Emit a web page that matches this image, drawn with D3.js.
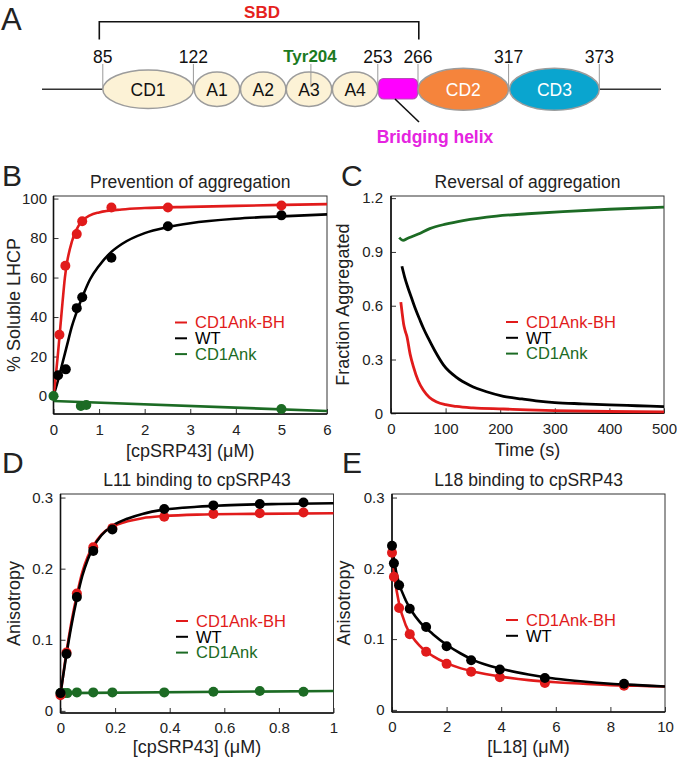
<!DOCTYPE html>
<html><head><meta charset="utf-8">
<script src="https://cdn.jsdelivr.net/npm/d3@7"></script>
<style>body{margin:0;background:#fff}svg{display:block;font-family:"Liberation Sans",Arial,sans-serif}</style>
</head><body><svg id="c" width="677" height="760"></svg>
<script>
// ---------- DATA ----------
const seriesNames = ["CD1Ank-BH", "WT", "CD1Ank"];
const colors = {"CD1Ank-BH": "#e11b1b", "WT": "#000000", "CD1Ank": "#1c6b24"};

// Panel A: domain map
const domainBoundaries = [85, 122, 253, 266, 317, 373];
const ankDomains = ["A1", "A2", "A3", "A4"];

// Panel B: prevention of aggregation (% soluble LHCP vs [cpSRP43] uM)
const bTicksX = [0, 1, 2, 3, 4, 5, 6];
const bTicksY = [0, 20, 40, 60, 80, 100];
const bRedPts = [[0.13, 31], [0.26, 66], [0.51, 82], [0.63, 88.5], [1.27, 95.5], [2.51, 95.5], [5.0, 96.5]];
const bBlackPts = [[0.1, 10.5], [0.27, 13.5], [0.51, 44.5], [0.63, 50], [1.27, 70], [2.51, 86], [5.0, 91.5]];
const bGreenPts = [[0, 0], [0.6, -5], [0.72, -4.5], [5.0, -6.6]];
const bRedFit = [[0,0],[0.05,10],[0.1,22],[0.15,35],[0.2,48],[0.25,60],[0.3,68],[0.4,78],[0.5,84],[0.6,88],[0.8,91.5],[1,93],[1.5,94.5],[2,95.2],[3,95.8],[4,96.3],[5,96.8],[6,97.2]];
const bBlackFit = [[0,0],[0.1,8],[0.2,17],[0.3,26],[0.4,35],[0.5,42],[0.63,50],[0.8,59],[1,66],[1.27,73],[1.5,77],[2,82.5],[2.5,85.5],[3,87.5],[4,89.8],[5,91],[6,92]];
const bGreenFit = [[0, -2.5], [6, -7.6]];

// Panel C: reversal of aggregation (fraction aggregated vs time s)
const cTicksX = [0, 100, 200, 300, 400, 500];
const cTicksY = [0, 0.3, 0.6, 0.9, 1.2];
const cRed = [[18,0.62],[20,0.57],[23,0.5],[26,0.46],[29,0.43],[35,0.33],[41,0.26],[50,0.18],[59,0.13],[70,0.09],[84,0.063],[100,0.048],[120,0.038],[150,0.03],[206,0.024],[250,0.019],[300,0.015],[400,0.01],[500,0.008]];
const cBlack = [[20,0.82],[25,0.76],[30,0.71],[38,0.64],[45,0.58],[53,0.52],[60,0.47],[68,0.42],[80,0.35],[96,0.27],[120,0.2],[145,0.155],[175,0.12],[206,0.095],[240,0.08],[270,0.068],[300,0.06],[350,0.053],[400,0.047],[450,0.042],[500,0.037]];
const cGreen = [[15,0.98],[22,0.965],[30,0.975],[50,1.0],[71,1.03],[100,1.055],[132,1.075],[193,1.10],[250,1.113],[315,1.125],[400,1.138],[500,1.15]];

// Panel D: L11 binding to cpSRP43 (anisotropy vs [cpSRP43] uM)
const dTicksX = [0, 0.2, 0.4, 0.6, 0.8, 1];
const dTicksY = [0, 0.1, 0.2, 0.3];
const dConc = [0, 0.022, 0.06, 0.12, 0.19, 0.38, 0.56, 0.73, 0.89];
const dBlack = [0.025, 0.08, 0.16, 0.225, 0.255, 0.284, 0.289, 0.291, 0.293];
const dRed = [0.022, 0.082, 0.165, 0.23, 0.257, 0.273, 0.277, 0.278, 0.279];
const dGreenConc = [0, 0.012, 0.025, 0.06, 0.12, 0.19, 0.38, 0.56, 0.73, 0.89];
const dGreen = [0.025, 0.025, 0.025, 0.026, 0.026, 0.026, 0.026, 0.027, 0.028, 0.027];
const dBlackFit = [[0,0.025],[0.02,0.075],[0.04,0.12],[0.06,0.158],[0.08,0.19],[0.1,0.213],[0.12,0.23],[0.15,0.247],[0.19,0.26],[0.25,0.271],[0.3,0.277],[0.38,0.283],[0.5,0.287],[0.6,0.289],[0.8,0.291],[1,0.292]];
const dRedFit = [[0,0.022],[0.02,0.078],[0.04,0.125],[0.06,0.163],[0.08,0.195],[0.1,0.217],[0.12,0.232],[0.15,0.248],[0.19,0.259],[0.25,0.267],[0.3,0.271],[0.38,0.274],[0.5,0.276],[0.7,0.277],[1,0.278]];
const dGreenFit = [[0, 0.025], [1, 0.028]];

// Panel E: L18 binding to cpSRP43 (anisotropy vs [L18] uM)
const eTicksX = [0, 2, 4, 6, 8, 10];
const eTicksY = [0, 0.1, 0.2, 0.3];
const eConc = [0, 0.07, 0.26, 0.65, 1.25, 2.0, 2.9, 3.95, 5.6, 8.5];
const eBlack = [0.232, 0.207, 0.176, 0.143, 0.117, 0.09, 0.07, 0.057, 0.045, 0.037];
const eRed = [0.222, 0.188, 0.144, 0.107, 0.082, 0.065, 0.054, 0.046, 0.038, 0.034];
const eBlackFit = [[0,0.232],[0.1,0.205],[0.25,0.18],[0.5,0.155],[0.75,0.138],[1,0.125],[1.5,0.107],[2,0.092],[2.5,0.08],[3,0.07],[4,0.058],[5,0.05],[6,0.044],[7,0.04],[8,0.037],[9,0.035],[10,0.033]];
const eRedFit = [[0,0.222],[0.1,0.186],[0.25,0.152],[0.5,0.12],[0.75,0.103],[1,0.091],[1.5,0.076],[2,0.066],[2.5,0.059],[3,0.054],[4,0.047],[5,0.042],[6,0.039],[7,0.037],[8,0.035],[9,0.034],[10,0.033]];

// ---------- DRAW ----------
const svg = d3.select("#c");
const FONT = '"Liberation Sans", Arial, sans-serif';

function panel(o) {
  const x = d3.scaleLinear().domain(o.xd).range([o.L, o.R]);
  const y = d3.scaleLinear().domain(o.yd).range([o.B, o.T]);
  const g = svg.append("g");
  g.append("text").attr("x", o.letter[1]).attr("y", o.letter[2]).attr("font-size", 30)
    .attr("fill", "#222").text(o.letter[0]);
  g.append("text").attr("x", (o.L + o.R) / 2).attr("y", o.T - 8).attr("text-anchor", "middle")
    .attr("font-size", 17.5).attr("fill", "#222").text(o.title);
  const ax = g.append("g").attr("transform", `translate(0,${o.B})`)
    .call(d3.axisBottom(x).tickValues(o.xt).tickSize(-5).tickPadding(o.xpad).tickFormat(o.xf || d3.format("")));
  const ay = g.append("g").attr("transform", `translate(${o.L},0)`)
    .call(d3.axisLeft(y).tickValues(o.yt).tickSize(-5).tickPadding(o.ypad).tickFormat(o.yf || d3.format("")));
  [ax, ay].forEach(a => {
    a.select(".domain").remove();
    a.selectAll("text").attr("font-size", 15).attr("font-family", FONT).attr("fill", "#222");
    a.selectAll("line").attr("stroke", "#333").attr("stroke-width", 1);
  });
  g.append("rect").attr("x", o.L).attr("y", o.T).attr("width", o.R - o.L).attr("height", o.B - o.T)
    .attr("fill", "none").attr("stroke", "#333").attr("stroke-width", 1);
  g.append("line").attr("x1", o.L).attr("x2", o.L).attr("y1", o.T).attr("y2", o.B).attr("stroke", "#111").attr("stroke-width", 1.6);
  g.append("line").attr("x1", o.L).attr("x2", o.R).attr("y1", o.B).attr("y2", o.B).attr("stroke", "#111").attr("stroke-width", 1.6);
  g.append("text").attr("x", (o.L + o.R) / 2).attr("y", o.xlabY).attr("text-anchor", "middle")
    .attr("font-size", 18).attr("fill", "#222").text(o.xlab);
  g.append("text").attr("transform", `translate(${o.ylabX},${(o.T + o.B) / 2}) rotate(-90)`)
    .attr("text-anchor", "middle").attr("font-size", 18).attr("fill", "#222").text(o.ylab);
  const id = "clip" + o.letter[0];
  svg.append("clipPath").attr("id", id).append("rect").attr("x", o.L).attr("y", o.T - 4)
    .attr("width", o.R - o.L + 2).attr("height", o.B - o.T + 8);
  const p = g.append("g").attr("clip-path", `url(#${id})`);
  const line = d3.line().x(d => x(d[0])).y(d => y(d[1])).curve(d3.curveMonotoneX);
  (o.lines || []).forEach(s => {
    p.append("path").datum(s.data).attr("d", line).attr("fill", "none")
      .attr("stroke", s.color).attr("stroke-width", s.w || 2.6).attr("stroke-linejoin", "round");
  });
  const pg = g.append("g");
  (o.points || []).forEach(s => {
    pg.selectAll(null).data(s.data).join("circle").attr("cx", d => x(d[0])).attr("cy", d => y(d[1]))
      .attr("r", 5).attr("fill", s.color);
  });
  o.legend.forEach((name, i) => {
    const ly = o.legY + i * 15.8;
    g.append("line").attr("x1", o.legX).attr("x2", o.legX + 12).attr("y1", ly).attr("y2", ly)
      .attr("stroke", colors[name]).attr("stroke-width", 2);
    g.append("text").attr("x", o.legX + 20).attr("y", ly).attr("dy", "0.35em").attr("font-size", 16.5)
      .attr("fill", colors[name]).text(name);
  });
}

const zip = (xs, ys) => xs.map((v, i) => [v, ys[i]]);

panel({
  letter: ["B", 2, 186], title: "Prevention of aggregation",
  L: 53.5, R: 327, T: 196, B: 414, xd: [0, 6], yd: [-9.1, 101.3],
  xt: bTicksX, yt: bTicksY, xpad: 10, ypad: 6.5,
  xlab: "[cpSRP43] (\u03bcM)", xlabY: 457, ylab: "% Soluble LHCP", ylabX: 20,
  lines: [{data: bGreenFit, color: colors.CD1Ank}, {data: bBlackFit, color: colors.WT}, {data: bRedFit, color: colors["CD1Ank-BH"]}],
  points: [{data: bGreenPts, color: colors.CD1Ank}, {data: bBlackPts, color: colors.WT}, {data: bRedPts, color: colors["CD1Ank-BH"]}],
  legend: seriesNames, legX: 175, legY: 322.5
});

panel({
  letter: ["C", 341, 186], title: "Reversal of aggregation",
  L: 391, R: 664, T: 196, B: 413.3, xd: [0, 500], yd: [0, 1.212],
  xt: cTicksX, yt: cTicksY, xpad: 10.5, ypad: 8,
  xf: d3.format("d"), yf: d => d === 0 ? "0" : d3.format(".1f")(d),
  xlab: "Time (s)", xlabY: 456, ylab: "Fraction Aggregated", ylabX: 349,
  lines: [{data: cGreen, color: colors.CD1Ank, w: 2.8}, {data: cBlack, color: colors.WT, w: 2.8}, {data: cRed, color: colors["CD1Ank-BH"], w: 2.8}],
  legend: seriesNames, legX: 506, legY: 322
});

panel({
  letter: ["D", 2, 473], title: "L11 binding to cpSRP43",
  L: 60.5, R: 333.5, T: 494, B: 713, xd: [0, 1], yd: [-0.003, 0.305],
  xt: dTicksX, yt: dTicksY, xpad: 9.5, ypad: 7.5,
  xf: d => d === 0 ? "0" : d === 1 ? "1" : d3.format(".1f")(d), yf: d => d === 0 ? "0" : d3.format(".1f")(d),
  xlab: "[cpSRP43] (\u03bcM)", xlabY: 753, ylab: "Anisotropy", ylabX: 20,
  lines: [{data: dGreenFit, color: colors.CD1Ank}, {data: dRedFit, color: colors["CD1Ank-BH"]}, {data: dBlackFit, color: colors.WT}],
  points: [{data: zip(dGreenConc, dGreen), color: colors.CD1Ank}, {data: zip(dConc, dRed), color: colors["CD1Ank-BH"]}, {data: zip(dConc, dBlack), color: colors.WT}],
  legend: seriesNames, legX: 176, legY: 621
});

panel({
  letter: ["E", 342, 473], title: "L18 binding to cpSRP43",
  L: 392, R: 665, T: 494, B: 712, xd: [0, 10], yd: [-0.003, 0.305],
  xt: eTicksX, yt: eTicksY, xpad: 9.5, ypad: 7.5,
  yf: d => d === 0 ? "0" : d3.format(".1f")(d),
  xlab: "[L18] (\u03bcM)", xlabY: 753, ylab: "Anisotropy", ylabX: 350,
  lines: [{data: eRedFit, color: colors["CD1Ank-BH"]}, {data: eBlackFit, color: colors.WT}],
  points: [{data: zip(eConc, eRed), color: colors["CD1Ank-BH"]}, {data: zip(eConc, eBlack), color: colors.WT}],
  legend: ["CD1Ank-BH", "WT"], legX: 506, legY: 620
});

// ---------- Panel A ----------
(function () {
  const a = svg.append("g");
  a.append("text").attr("x", 1).attr("y", 30).attr("font-size", 31).attr("fill", "#222").text("A");
  const bx = {85: 102.8, 122: 193.4, 253: 377.8, 266: 418, 317: 508.6, 373: 599.3};
  const CY = 89.3;
  a.append("line").attr("x1", 42).attr("x2", 661).attr("y1", CY).attr("y2", CY).attr("stroke", "#333").attr("stroke-width", 1.5);
  // SBD bracket
  a.append("path").attr("d", `M99.3,39.5V21.7H418.8V39.5`).attr("fill", "none").attr("stroke", "#111").attr("stroke-width", 1.6);
  a.append("text").attr("x", 262).attr("y", 18).attr("text-anchor", "middle").attr("font-size", 17)
    .attr("font-weight", "bold").attr("fill", "#e5211c").text("SBD");
  // boundary lines & labels
  domainBoundaries.forEach(r => {
    a.append("line").attr("x1", bx[r]).attr("x2", bx[r]).attr("y1", 64).attr("y2", CY).attr("stroke", "#999").attr("stroke-width", 1);
    a.append("text").attr("x", bx[r]).attr("y", 63).attr("text-anchor", "middle").attr("font-size", 17.5)
      .attr("fill", "#111").text(r);
  });
  const fillY = "#fcf2d6", strokeG = "#9c9c9c";
  a.append("ellipse").attr("cx", 148.1).attr("cy", CY).attr("rx", 45.3).attr("ry", 19.2).attr("fill", fillY).attr("stroke", strokeG).attr("stroke-width", 1.5);
  a.append("text").attr("x", 148.1).attr("y", CY).attr("dy", "0.36em").attr("text-anchor", "middle").attr("font-size", 17.5).attr("fill", "#111").text("CD1");
  const ankX = [217, 263.2, 309, 355.1];
  ankDomains.forEach((n, i) => {
    a.append("ellipse").attr("cx", ankX[i]).attr("cy", CY).attr("rx", 22.7).attr("ry", 17.2).attr("fill", fillY).attr("stroke", strokeG).attr("stroke-width", 1.5);
  });
  a.append("line").attr("x1", 310.9).attr("x2", 310.9).attr("y1", 64).attr("y2", 87).attr("stroke", "#999").attr("stroke-width", 1);
  ankDomains.forEach((n, i) => {
    a.append("text").attr("x", ankX[i]).attr("y", CY).attr("dy", "0.36em").attr("text-anchor", "middle").attr("font-size", 17.5).attr("fill", "#111").text(n);
  });
  a.append("text").attr("x", 310).attr("y", 62).attr("text-anchor", "middle").attr("font-size", 17)
    .attr("font-weight", "bold").attr("fill", "#1c7a1f").text("Tyr204");
  // bridging helix
  a.append("rect").attr("x", 378.7).attr("y", 78.5).attr("width", 38.8).attr("height", 20.5).attr("rx", 5)
    .attr("fill", "#ff00ff").attr("stroke", "#b84cb8").attr("stroke-width", 1.2);
  a.append("line").attr("x1", 395).attr("y1", 99).attr("x2", 419).attr("y2", 122).attr("stroke", "#111").attr("stroke-width", 1.6);
  a.append("text").attr("x", 435).attr("y", 143).attr("text-anchor", "middle").attr("font-size", 17.5)
    .attr("font-weight", "bold").attr("fill", "#e524e0").text("Bridging helix");
  // CD2 / CD3
  a.append("ellipse").attr("cx", 463.3).attr("cy", CY).attr("rx", 45.3).attr("ry", 21).attr("fill", "#f5843c").attr("stroke", "#9c9c9c").attr("stroke-width", 1.5);
  a.append("text").attr("x", 463.3).attr("y", CY).attr("dy", "0.36em").attr("text-anchor", "middle").attr("font-size", 17.5).attr("fill", "#fff").text("CD2");
  a.append("ellipse").attr("cx", 554.4).attr("cy", CY).attr("rx", 44.9).attr("ry", 21).attr("fill", "#0aa5cf").attr("stroke", "#9c9c9c").attr("stroke-width", 1.5);
  a.append("text").attr("x", 554.4).attr("y", CY).attr("dy", "0.36em").attr("text-anchor", "middle").attr("font-size", 17.5).attr("fill", "#fff").text("CD3");
})();
</script></body></html>
